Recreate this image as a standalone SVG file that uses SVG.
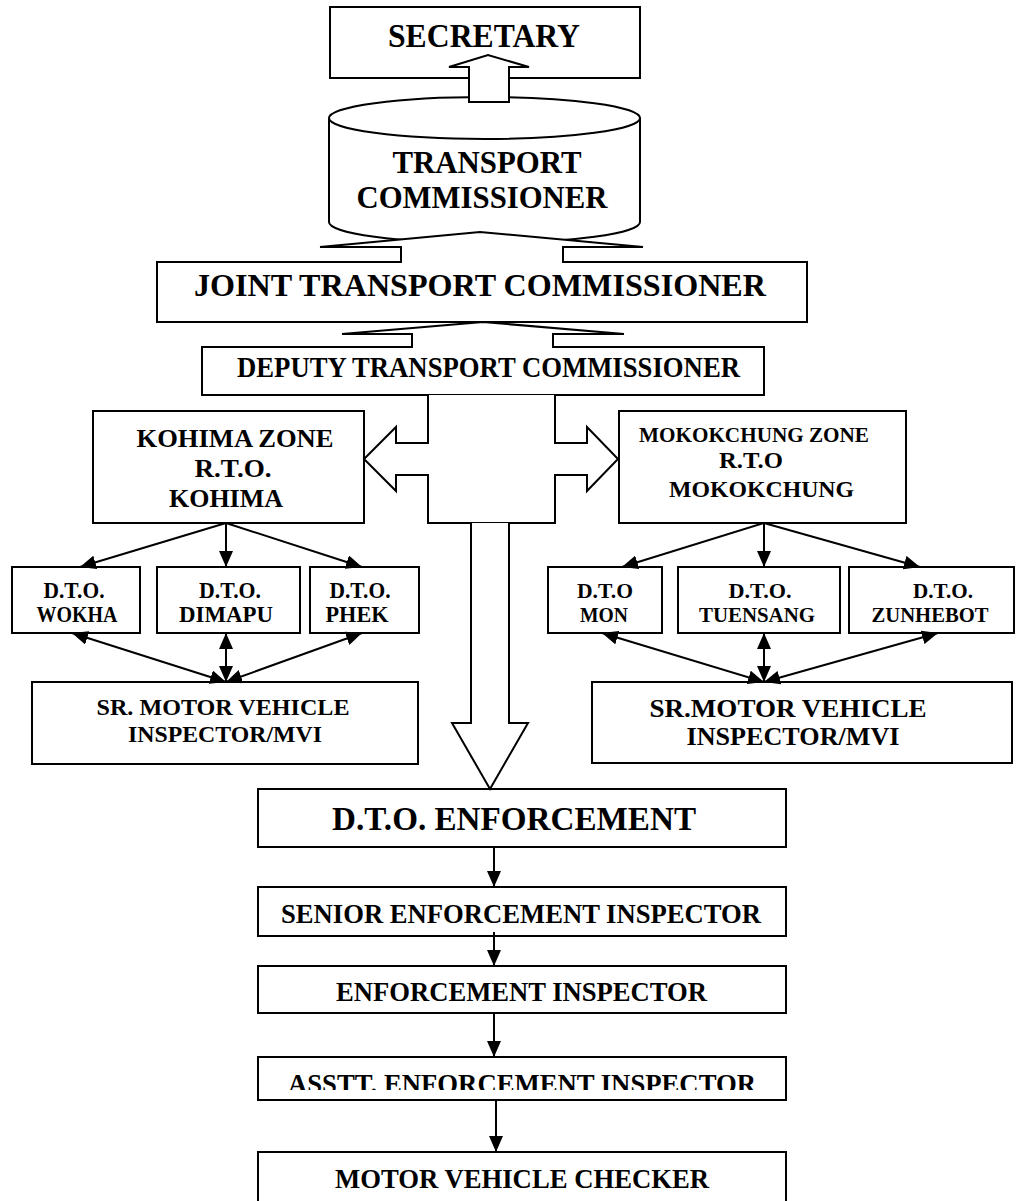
<svg xmlns="http://www.w3.org/2000/svg" width="1016" height="1201" viewBox="0 0 1016 1201">
<style>
.b{fill:#fff;stroke:#000;stroke-width:2}
.t{font-family:"Liberation Serif","Times New Roman",serif;font-weight:bold;fill:#000;text-anchor:middle}
.ln{stroke:#000;stroke-width:2;fill:none}
.blk{fill:#fff;stroke:#000;stroke-width:2;stroke-linejoin:miter}
</style>
<defs>
<marker id="ah" viewBox="0 0 16 14" markerUnits="userSpaceOnUse" markerWidth="16" markerHeight="14" refX="16" refY="7" orient="auto-start-reverse">
<path d="M0,0 L16,7 L0,14 z" fill="#000"/>
</marker>
<clipPath id="clipA"><rect x="258" y="1057" width="528" height="33"/></clipPath>
</defs>
<rect width="1016" height="1201" fill="#fff"/>

<g id="secretary">
<rect class="b" x="330" y="7" width="310" height="71"/>
<text class="t" x="484" y="47" font-size="33" textLength="192" lengthAdjust="spacingAndGlyphs">SECRETARY</text>
</g>

<g id="transport-commissioner">
<path class="b" d="M329,118 L329,222 A155.5,21 0 0 0 640,222 L640,118"/>
<ellipse class="b" cx="484.5" cy="118" rx="155.5" ry="21"/>
<text class="t" x="487" y="173" font-size="32" textLength="189" lengthAdjust="spacingAndGlyphs">TRANSPORT</text>
<text class="t" x="482" y="208" font-size="32" textLength="251" lengthAdjust="spacingAndGlyphs">COMMISSIONER</text>
</g>

<g id="joint-transport-commissioner">
<path class="b" d="M157,262 L401,262 L401,247 L320,247 L480,232 L643,247 L563,247 L563,262 L807,262 L807,322 L157,322 Z"/>
<text class="t" x="480" y="296" font-size="32" textLength="572" lengthAdjust="spacingAndGlyphs">JOINT TRANSPORT COMMISSIONER</text>
</g>

<g id="deputy-transport-commissioner">
<path class="b" d="M202,347 L412,347 L412,334 L342,334 L483,322 L624,334 L553,334 L553,347 L764,347 L764,395 L202,395 Z"/>
<text class="t" x="488.5" y="377" font-size="28.5" textLength="503" lengthAdjust="spacingAndGlyphs">DEPUTY TRANSPORT COMMISSIONER</text>
</g>

<g id="kohima-zone">
<rect class="b" x="93" y="411" width="271" height="112"/>
<text class="t" x="235" y="447" font-size="26" textLength="197" lengthAdjust="spacingAndGlyphs">KOHIMA ZONE</text>
<text class="t" x="233" y="477" font-size="26" textLength="77" lengthAdjust="spacingAndGlyphs">R.T.O.</text>
<text class="t" x="226" y="507" font-size="26" textLength="114" lengthAdjust="spacingAndGlyphs">KOHIMA</text>
</g>

<g id="mokokchung-zone">
<rect class="b" x="619" y="411" width="287" height="112"/>
<text class="t" x="754" y="442" font-size="21.5" textLength="230" lengthAdjust="spacingAndGlyphs">MOKOKCHUNG ZONE</text>
<text class="t" x="751" y="468" font-size="23" textLength="64" lengthAdjust="spacingAndGlyphs">R.T.O</text>
<text class="t" x="761.5" y="497" font-size="23" textLength="185" lengthAdjust="spacingAndGlyphs">MOKOKCHUNG</text>
</g>

<g id="dto-wokha">
<rect class="b" x="12" y="567" width="128" height="66"/>
<text class="t" x="74" y="598" font-size="23" textLength="61" lengthAdjust="spacingAndGlyphs">D.T.O.</text>
<text class="t" x="77" y="622" font-size="23" textLength="81" lengthAdjust="spacingAndGlyphs">WOKHA</text>
</g>
<g id="dto-dimapu">
<rect class="b" x="157" y="567" width="143" height="66"/>
<text class="t" x="230" y="598" font-size="23" textLength="62" lengthAdjust="spacingAndGlyphs">D.T.O.</text>
<text class="t" x="226" y="622" font-size="23" textLength="94" lengthAdjust="spacingAndGlyphs">DIMAPU</text>
</g>
<g id="dto-phek">
<rect class="b" x="310" y="567" width="109" height="66"/>
<text class="t" x="360" y="598" font-size="23" textLength="61" lengthAdjust="spacingAndGlyphs">D.T.O.</text>
<text class="t" x="357" y="622" font-size="23" textLength="63" lengthAdjust="spacingAndGlyphs">PHEK</text>
</g>

<g id="dto-mon">
<rect class="b" x="548" y="567" width="114" height="66"/>
<text class="t" x="605" y="598" font-size="22" textLength="56" lengthAdjust="spacingAndGlyphs">D.T.O</text>
<text class="t" x="604" y="622" font-size="22" textLength="48" lengthAdjust="spacingAndGlyphs">MON</text>
</g>
<g id="dto-tuensang">
<rect class="b" x="678" y="567" width="162" height="66"/>
<text class="t" x="760" y="598" font-size="22" textLength="63" lengthAdjust="spacingAndGlyphs">D.T.O.</text>
<text class="t" x="757" y="622" font-size="22" textLength="116" lengthAdjust="spacingAndGlyphs">TUENSANG</text>
</g>
<g id="dto-zunhebot">
<rect class="b" x="849" y="567" width="165" height="66"/>
<text class="t" x="943" y="598" font-size="22" textLength="60" lengthAdjust="spacingAndGlyphs">D.T.O.</text>
<text class="t" x="930" y="622" font-size="22" textLength="117" lengthAdjust="spacingAndGlyphs">ZUNHEBOT</text>
</g>

<g id="sr-mvi-left">
<rect class="b" x="32" y="682" width="386" height="82"/>
<text class="t" x="223" y="715" font-size="23.5" textLength="253" lengthAdjust="spacingAndGlyphs">SR. MOTOR VEHICLE</text>
<text class="t" x="225" y="742" font-size="23.5" textLength="194" lengthAdjust="spacingAndGlyphs">INSPECTOR/MVI</text>
</g>
<g id="sr-mvi-right">
<rect class="b" x="592" y="682" width="420" height="81"/>
<text class="t" x="788" y="717" font-size="25" textLength="277" lengthAdjust="spacingAndGlyphs">SR.MOTOR VEHICLE</text>
<text class="t" x="793" y="745" font-size="25" textLength="213" lengthAdjust="spacingAndGlyphs">INSPECTOR/MVI</text>
</g>

<g id="dto-enforcement">
<rect class="b" x="258" y="789" width="528" height="58"/>
<text class="t" x="514" y="830" font-size="33" textLength="364" lengthAdjust="spacingAndGlyphs">D.T.O. ENFORCEMENT</text>
</g>
<g id="senior-enforcement-inspector">
<rect class="b" x="258" y="887" width="528" height="49"/>
<text class="t" x="521" y="923" font-size="27" textLength="480" lengthAdjust="spacingAndGlyphs">SENIOR ENFORCEMENT INSPECTOR</text>
</g>
<g id="enforcement-inspector">
<rect class="b" x="258" y="966" width="528" height="47"/>
<text class="t" x="521.5" y="1001" font-size="26.5" textLength="371" lengthAdjust="spacingAndGlyphs">ENFORCEMENT INSPECTOR</text>
</g>
<g id="asstt-enforcement-inspector">
<rect class="b" x="258" y="1057" width="528" height="43"/>
<text class="t" x="522" y="1093" font-size="26.5" textLength="468" lengthAdjust="spacingAndGlyphs" clip-path="url(#clipA)">ASSTT. ENFORCEMENT INSPECTOR</text>
</g>
<g id="motor-vehicle-checker">
<rect class="b" x="258" y="1152" width="528" height="70"/>
<text class="t" x="522" y="1188" font-size="28" textLength="374" lengthAdjust="spacingAndGlyphs">MOTOR VEHICLE CHECKER</text>
</g>

<g id="connectors">
<path class="blk" d="M469,102 L469,67 L449,67 L488,55 L529,67 L509,67 L509,102 Z"/>
<path class="blk" d="M428,395 L428,443 L396,443 L396,427 L364,459 L396,491 L396,475 L428,475 L428,523 L555,523 L555,475 L587,475 L587,491 L618,459 L587,427 L587,443 L555,443 L555,395"/>
<path class="blk" d="M471,523 L471,723 L452,723 L490,789 L528,723 L509,723 L509,523"/>

<line class="ln" x1="226" y1="523" x2="80" y2="567" marker-end="url(#ah)"/>
<line class="ln" x1="226" y1="523" x2="226" y2="567" marker-end="url(#ah)"/>
<line class="ln" x1="226" y1="523" x2="362" y2="567" marker-end="url(#ah)"/>
<line class="ln" x1="226" y1="682" x2="72" y2="633" marker-start="url(#ah)" marker-end="url(#ah)"/>
<line class="ln" x1="226" y1="682" x2="226" y2="633" marker-start="url(#ah)" marker-end="url(#ah)"/>
<line class="ln" x1="226" y1="682" x2="362" y2="633" marker-start="url(#ah)" marker-end="url(#ah)"/>

<line class="ln" x1="764" y1="523" x2="622" y2="567" marker-end="url(#ah)"/>
<line class="ln" x1="764" y1="523" x2="764" y2="567" marker-end="url(#ah)"/>
<line class="ln" x1="764" y1="523" x2="920" y2="567" marker-end="url(#ah)"/>
<line class="ln" x1="764" y1="682" x2="602" y2="633" marker-start="url(#ah)" marker-end="url(#ah)"/>
<line class="ln" x1="764" y1="682" x2="764" y2="633" marker-start="url(#ah)" marker-end="url(#ah)"/>
<line class="ln" x1="764" y1="682" x2="938" y2="633" marker-start="url(#ah)" marker-end="url(#ah)"/>

<line class="ln" x1="494" y1="847" x2="494" y2="887" marker-end="url(#ah)"/>
<line class="ln" x1="494" y1="932" x2="494" y2="966" marker-end="url(#ah)"/>
<line class="ln" x1="494" y1="1013" x2="494" y2="1057" marker-end="url(#ah)"/>
<line class="ln" x1="496" y1="1100" x2="496" y2="1152" marker-end="url(#ah)"/>
</g>
</svg>
